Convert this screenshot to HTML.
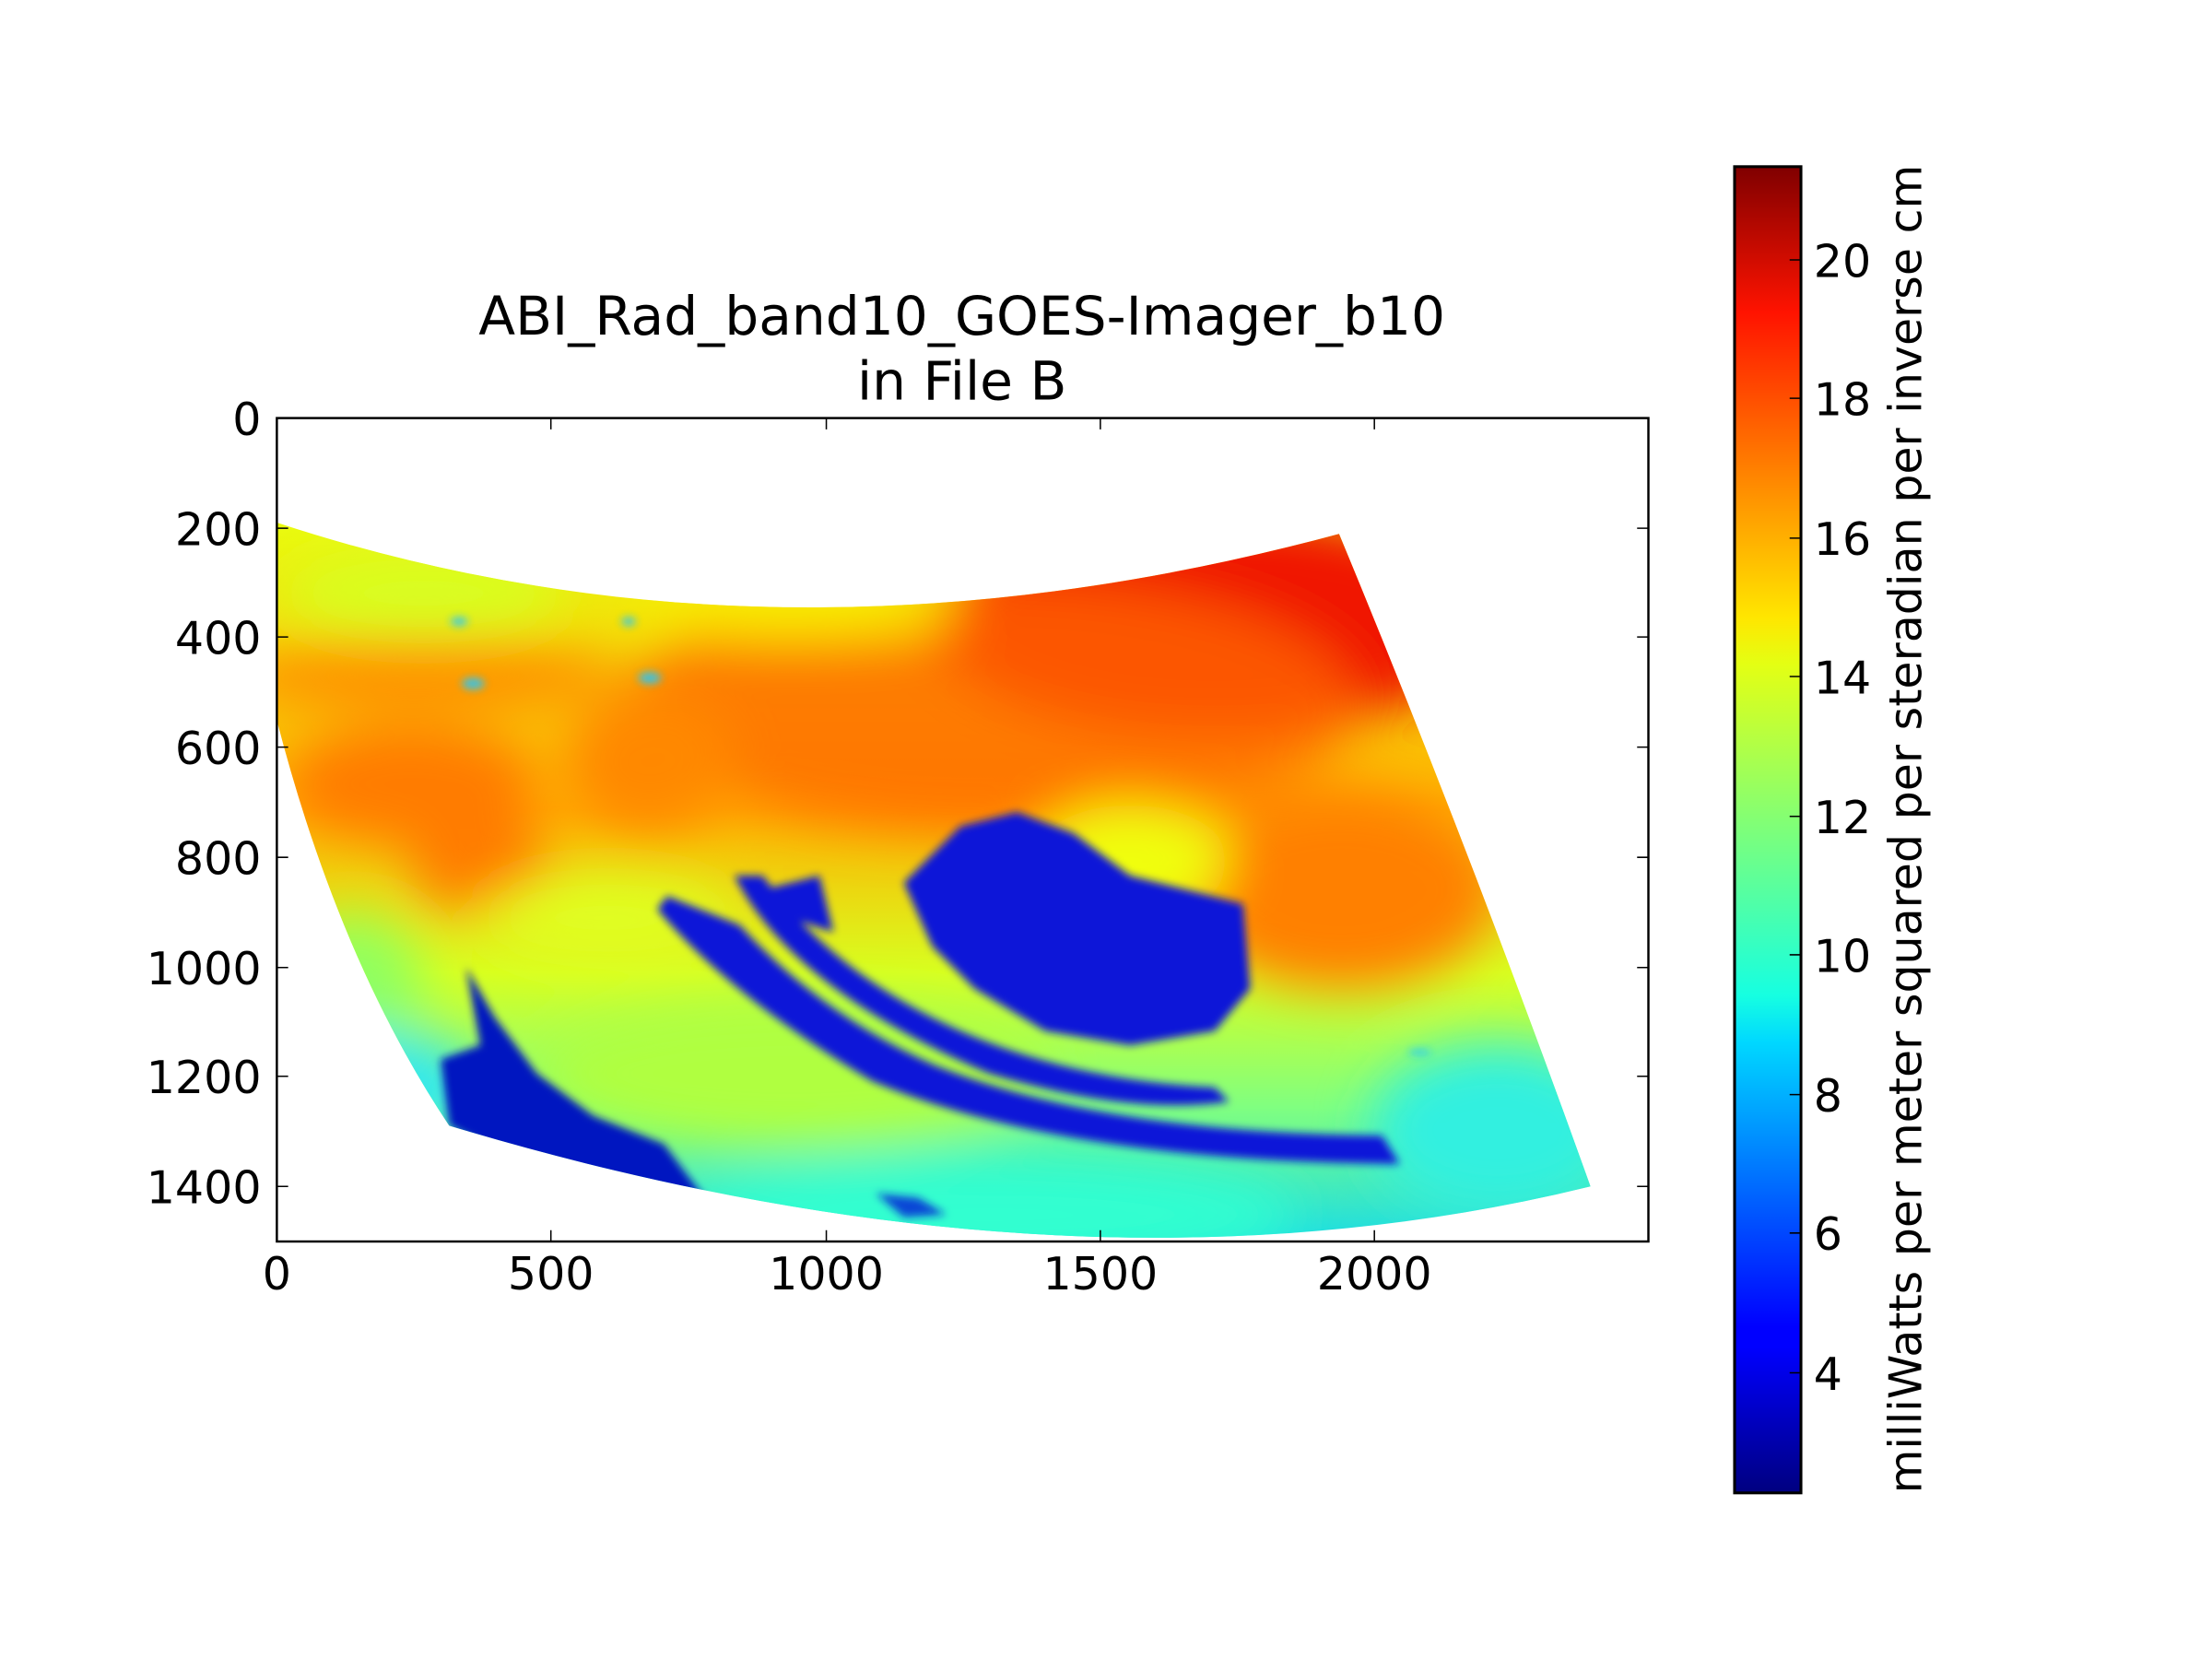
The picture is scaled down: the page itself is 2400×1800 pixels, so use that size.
<!DOCTYPE html>
<html><head><meta charset="utf-8"><style>
html,body{margin:0;padding:0;background:#fff;}
svg{display:block;}
text{font-family:"DejaVu Sans","Liberation Sans",sans-serif;fill:#000;}
</style></head><body>
<svg width="2400" height="1800" viewBox="0 0 1566 1174.6" preserveAspectRatio="none" xmlns="http://www.w3.org/2000/svg">
<defs>
<linearGradient id="jet" x1="0" y1="1" x2="0" y2="0">
<stop offset="0" stop-color="#000080"/><stop offset="0.11" stop-color="#0000ff"/>
<stop offset="0.125" stop-color="#0000ff"/><stop offset="0.34" stop-color="#00d8ff"/>
<stop offset="0.375" stop-color="#16ffe1"/><stop offset="0.5" stop-color="#7dff7a"/>
<stop offset="0.625" stop-color="#e4ff13"/><stop offset="0.66" stop-color="#ffe600"/>
<stop offset="0.75" stop-color="#ff9400"/><stop offset="0.89" stop-color="#ff1300"/>
<stop offset="1" stop-color="#800000"/></linearGradient>
<linearGradient id="base" x1="0" y1="0" x2="0" y2="1">
<stop offset="0" stop-color="#e8ff10"/><stop offset="0.4" stop-color="#ffb000"/>
<stop offset="0.62" stop-color="#d8ff20"/><stop offset="0.8" stop-color="#80ff80"/>
<stop offset="1" stop-color="#10d8f0"/></linearGradient>
<clipPath id="sw"><path d="M196,370 Q548,486 948,378 Q1040,600 1126,840 Q760,930 318,797 Q240,680 196,510 Z"/></clipPath>
<clipPath id="ax"><rect x="196" y="296" width="971" height="583"/></clipPath>
<filter id="b1" x="-50%" y="-50%" width="200%" height="200%"><feGaussianBlur stdDeviation="18"/></filter>
<filter id="b2" x="-50%" y="-50%" width="200%" height="200%"><feGaussianBlur stdDeviation="3"/></filter>
</defs>
<g clip-path="url(#ax)"><g clip-path="url(#sw)">
<rect x="190" y="360" width="950" height="530" fill="url(#base)"/>
<g filter="url(#b1)">
<ellipse cx="860" cy="440" rx="200" ry="80" fill="#f01800"/>
<ellipse cx="700" cy="500" rx="260" ry="90" fill="#ff6800" opacity="0.8"/>
<ellipse cx="300" cy="480" rx="140" ry="25" fill="#ff9000"/>
<ellipse cx="290" cy="555" rx="90" ry="40" fill="#ff7c00"/>
<ellipse cx="340" cy="610" rx="50" ry="35" fill="#ff7c00"/>
<ellipse cx="460" cy="540" rx="60" ry="50" fill="#ff8800"/>
<ellipse cx="950" cy="630" rx="110" ry="70" fill="#ff8000"/>
<ellipse cx="560" cy="430" rx="120" ry="20" fill="#f8f000"/>
<ellipse cx="300" cy="420" rx="100" ry="30" fill="#d8ff20"/>
<ellipse cx="800" cy="610" rx="70" ry="40" fill="#f0ff10"/>
<ellipse cx="430" cy="650" rx="90" ry="30" fill="#e0ff20"/>
<ellipse cx="560" cy="760" rx="180" ry="50" fill="#b0ff40"/>
<ellipse cx="250" cy="700" rx="50" ry="50" fill="#90ff60"/>
<ellipse cx="260" cy="770" rx="80" ry="40" fill="#30e8f0"/>
<ellipse cx="1060" cy="800" rx="90" ry="60" fill="#30f0e0"/>
<ellipse cx="700" cy="860" rx="220" ry="40" fill="#30ffd0"/>
</g>
<g filter="url(#b2)" fill="#0818d8">
<path d="M680,585 L720,575 L760,590 L800,620 L880,640 L885,700 L860,730 L800,740 L740,730 L690,700 L660,670 L640,625 Z"/>
<path d="M470,640 Q520,700 620,760 Q750,815 980,818 L975,810 Q780,808 660,760 Q580,725 520,660 Z" stroke="#0818d8" stroke-width="12"/>
<path d="M520,620 Q560,700 700,760 Q800,790 870,780 L860,770 Q760,765 680,730 Q590,690 540,620 Z"/>
<path d="M318,797 L312,750 L340,740 L330,685 L350,720 L380,760 L420,790 L470,810 L500,850 L550,860 L540,875 L460,855 L380,830 Z" fill="#0414c0"/>
<path d="M540,630 L580,620 L590,660 L560,650 Z"/>
<path d="M620,845 L650,848 L670,860 L640,862 Z" opacity="0.8"/>
</g>
<g filter="url(#b2)" fill="#20c8ff" opacity="0.9">
<ellipse cx="325" cy="440" rx="6" ry="3"/><ellipse cx="335" cy="484" rx="8" ry="4"/>
<ellipse cx="460" cy="480" rx="8" ry="4"/><ellipse cx="445" cy="440" rx="5" ry="3"/>
<ellipse cx="1005" cy="745" rx="8" ry="2"/>
</g>
</g></g>
<rect x="196" y="296" width="971" height="583" fill="none" stroke="#000" stroke-width="1.6"/>
<g stroke="#000" stroke-width="1">
<path d="M196,374 h8 M196,451 h8 M196,529 h8 M196,607 h8 M196,685 h8 M196,762 h8 M196,840 h8
M1167,374 h-8 M1167,451 h-8 M1167,529 h-8 M1167,607 h-8 M1167,685 h-8 M1167,762 h-8 M1167,840 h-8
M390,879 v-8 M585,879 v-8 M779,879 v-8 M973,879 v-8
M390,296 v8 M585,296 v8 M779,296 v8 M973,296 v8"/>
</g>
<g font-size="32" text-anchor="end">
<text x="185" y="308">0</text><text x="185" y="386">200</text><text x="185" y="463">400</text>
<text x="185" y="541">600</text><text x="185" y="619">800</text><text x="185" y="697">1000</text>
<text x="185" y="774">1200</text><text x="185" y="852">1400</text>
</g>
<g font-size="32" text-anchor="middle">
<text x="196" y="913">0</text><text x="390" y="913">500</text><text x="585" y="913">1000</text>
<text x="779" y="913">1500</text><text x="973" y="913">2000</text>
</g>
<g font-size="38" text-anchor="middle">
<text x="681" y="237">ABI_Rad_band10_GOES-Imager_b10</text>
<text x="681" y="283">in File B</text>
</g>
<rect x="1228" y="118" width="47" height="939" fill="url(#jet)" stroke="#000" stroke-width="2"/>
<g stroke="#000" stroke-width="1">
<path d="M1275,972 h-8 M1275,873 h-8 M1275,775 h-8 M1275,676 h-8 M1275,578 h-8 M1275,479 h-8 M1275,381 h-8 M1275,282 h-8 M1275,184 h-8"/>
</g>
<g font-size="32">
<text x="1284" y="984">4</text><text x="1284" y="885">6</text><text x="1284" y="787">8</text>
<text x="1284" y="688">10</text><text x="1284" y="590">12</text><text x="1284" y="491">14</text>
<text x="1284" y="393">16</text><text x="1284" y="294">18</text><text x="1284" y="196">20</text>
</g>
<text font-size="32" text-anchor="middle" transform="translate(1360,587) rotate(-90)">milliWatts per meter squared per steradian per inverse cm</text>
</svg>
</body></html>
